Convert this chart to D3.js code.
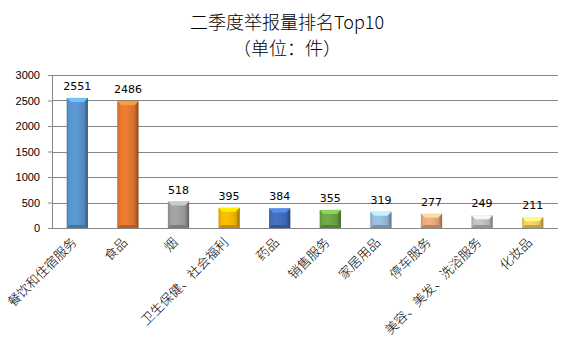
<!DOCTYPE html>
<html lang="zh">
<head>
    <meta charset="UTF-8">
    <title>二季度举报量排名Top10</title>
    <script src="https://d3js.org/d3.v7.min.js"></script>
    <style>
        body {
            margin: 0;
            background: #fff;
        }
        .title {
            font-family: 'Noto Sans CJK SC', sans-serif;
            font-size: 18px;
            font-weight: 300;
            fill: #000;
        }
        .y-axis text {
            font-family: 'Liberation Sans', Arial, sans-serif;
            font-size: 11px;
            fill: #000;
        }
        .value-label {
            font-family: 'DejaVu Sans', Verdana, sans-serif;
            font-size: 11px;
            fill: #000;
        }
        .x-label {
            font-family: 'Noto Sans CJK SC', sans-serif;
            font-size: 13px;
            font-weight: 300;
            fill: #000;
        }
    </style>
</head>
<body>
    <svg id="chart" width="575" height="352"></svg>

    <script>
        const categories = ["餐饮和住宿服务", "食品", "烟", "卫生保健、社会福利", "药品",
                            "销售服务", "家居用品", "停车服务", "美容、美发、洗浴服务", "化妆品"];
        const counts = [2551, 2486, 518, 395, 384, 355, 319, 277, 249, 211];
        const barColors = ["#5b9bd5", "#ed7d31", "#a5a5a5", "#ffc000", "#4472c4",
                           "#70ad47", "#9dc3e6", "#f4b183", "#c9c9c9", "#ffd966"];
        const yTicks = [0, 500, 1000, 1500, 2000, 2500, 3000];

        const margin = { top: 75, right: 17, bottom: 124, left: 52 },
              width = 575 - margin.left - margin.right,
              height = 352 - margin.top - margin.bottom;

        const svg = d3.select("#chart");

        // title
        svg.append("text").attr("class", "title")
           .attr("x", 287).attr("y", 28.5)
           .attr("text-anchor", "middle")
           .text("二季度举报量排名Top10");
        svg.append("text").attr("class", "title")
           .attr("x", 287).attr("y", 55)
           .attr("text-anchor", "middle")
           .text("（单位：件）");

        const g = svg.append("g")
                     .attr("transform", `translate(${margin.left},${margin.top})`);

        const x = d3.scaleBand()
                    .domain(categories)
                    .range([0, width])
                    .paddingInner(0.58)
                    .paddingOuter(0.29);

        const y = d3.scaleLinear()
                    .domain([0, 3000])
                    .range([height, 0]);

        // gridlines
        g.selectAll(".grid")
         .data(yTicks.slice(1))
         .enter()
         .append("line")
         .attr("x1", 0).attr("x2", width)
         .attr("y1", d => Math.round(y(d)) + 0.5)
         .attr("y2", d => Math.round(y(d)) + 0.5)
         .attr("stroke", "#868686");

        const yAxis = g.append("g")
                       .attr("class", "y-axis")
                       .call(d3.axisLeft(y).tickValues(yTicks).tickFormat(d3.format("d"))
                               .tickSize(4).tickPadding(8).tickSizeOuter(0));
        yAxis.select(".domain").attr("stroke", "#868686");
        yAxis.selectAll(".tick line").attr("stroke", "#868686");

        g.append("line")
         .attr("x1", 0).attr("x2", width)
         .attr("y1", Math.round(height) + 0.5).attr("y2", Math.round(height) + 0.5)
         .attr("stroke", "#868686");

        // gradients for a bevelled look
        const defs = svg.append("defs");
        barColors.forEach((c, i) => {
            const base = d3.color(c);
            const grad = defs.append("linearGradient")
                             .attr("id", "grad" + i)
                             .attr("x1", "0%").attr("x2", "100%");
            grad.append("stop").attr("offset", "0%").attr("stop-color", base.darker(0.6));
            grad.append("stop").attr("offset", "12%").attr("stop-color", base.darker(0.1));
            grad.append("stop").attr("offset", "40%").attr("stop-color", base);
            grad.append("stop").attr("offset", "80%").attr("stop-color", base.darker(0.3));
            grad.append("stop").attr("offset", "100%").attr("stop-color", base.darker(1.6));
        });

        const bars = g.selectAll(".bar")
                      .data(counts)
                      .enter()
                      .append("g")
                      .attr("class", "bar");

        bars.append("rect")
            .attr("x", (d, i) => x(categories[i]))
            .attr("y", d => y(d))
            .attr("width", x.bandwidth())
            .attr("height", d => height - y(d))
            .attr("fill", (d, i) => `url(#grad${i})`);

        // top bevel
        bars.append("path")
            .attr("d", (d, i) => {
                const x0 = x(categories[i]), w = x.bandwidth(), t = y(d), b = 4;
                return `M${x0},${t}L${x0 + w},${t}L${x0 + w - b},${t + b}L${x0 + b},${t + b}Z`;
            })
            .attr("fill", (d, i) => d3.color(barColors[i]).brighter(0.6));

        // bottom bevel
        bars.append("path")
            .attr("d", (d, i) => {
                const x0 = x(categories[i]), w = x.bandwidth(), b = 3;
                return `M${x0},${height}L${x0 + w},${height}L${x0 + w - b},${height - b}L${x0 + b},${height - b}Z`;
            })
            .attr("fill", (d, i) => d3.color(barColors[i]).darker(0.8));

        bars.append("text")
            .attr("class", "value-label")
            .attr("x", (d, i) => x(categories[i]) + x.bandwidth() / 2)
            .attr("y", d => y(d) - 8)
            .attr("text-anchor", "middle")
            .text(d => d);

        // rotated category labels
        g.selectAll(".x-label")
         .data(categories)
         .enter()
         .append("text")
         .attr("class", "x-label")
         .attr("text-anchor", "end")
         .attr("transform", d => `translate(${x(d) + x.bandwidth() / 2 - 3},${height + 12}) rotate(-45)`)
         .attr("dy", "0.35em")
         .text(d => d);
    </script>
</body>
</html>
